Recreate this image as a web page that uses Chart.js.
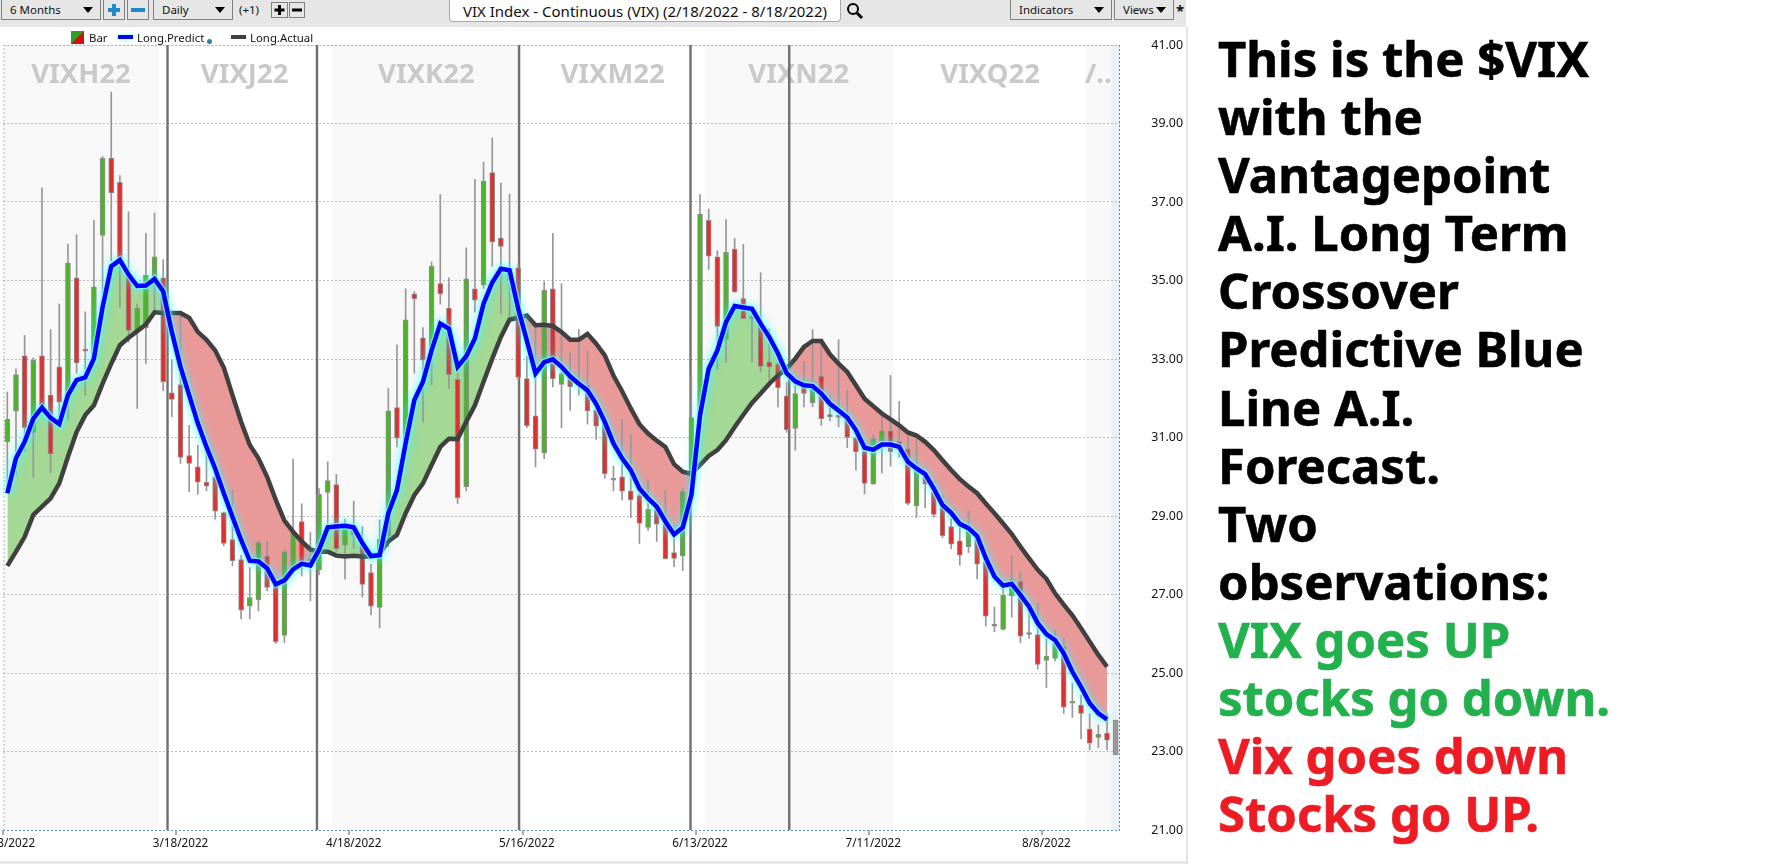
<!DOCTYPE html>
<html>
<head>
<meta charset="utf-8">
<title>VIX Index</title>
<script src="https://cdn.jsdelivr.net/npm/chart.js@4"></script>
<style>
  html, body { margin: 0; padding: 0; background: #fff; overflow: hidden; }
  body { width: 1767px; height: 864px; position: relative; font-family: "Noto Sans", sans-serif; color: #111; }
  #vixChart { position: absolute; left: 0; top: 0; }
  #toolbar { position: absolute; left: 0; top: 0; width: 1186px; height: 27px; background: #e6e6e6; }
  #footer { position: absolute; left: 0; top: 861px; width: 1186px; height: 3px; background: #e6e6e6; }
  #divider { position: absolute; left: 1186px; top: 27px; width: 2px; height: 837px; background: #e4e4e4; }
  .btn { position: absolute; top: 0; height: 20px; box-sizing: border-box; border: 1px solid #808080; border-top: 0; font-size: 11.5px; line-height: 20px; padding-left: 8px; }
  .btn b { position: absolute; right: 7px; top: 7px; width: 0; height: 0; border: 5px solid transparent; border-top: 6px solid #000; border-bottom: 0; }
  .btn svg { position: absolute; left: 0; top: 0; }
  #title { position: absolute; left: 449px; top: 0; width: 392px; height: 22px; box-sizing: border-box; background: #fff; border: 1px solid #aaa; border-top: 0; border-radius: 0 0 4px 4px; font-size: 15px; line-height: 23px; text-align: center; white-space: nowrap; }
  #legend { position: absolute; left: 0; top: 30px; height: 16px; font-size: 11.4px; line-height: 16px; }
  #legend span, #legend i { position: absolute; white-space: nowrap; }
  #notes { position: absolute; left: 1218px; top: 29px; font-family: "Noto Sans", sans-serif; font-weight: 700; font-size: 49px; line-height: 58.1px; white-space: nowrap; color: #000; -webkit-text-stroke: 0.6px currentColor; }
  .up { color: #22b14c; }
  .down { color: #ed1c24; }
</style>
</head>
<body>
<canvas id="vixChart" width="1186" height="864"></canvas>
<div id="toolbar">
  <div class="btn" style="left:1px;width:100px">6 Months<b></b></div>
  <div class="btn" style="left:103px;width:22px;padding:0"><svg width="20" height="20"><path d="M10 4V16M4 10H16" stroke="#1f8ac9" stroke-width="4"/></svg></div>
  <div class="btn" style="left:127px;width:22px;padding:0"><svg width="20" height="20"><path d="M3 10H17" stroke="#1f8ac9" stroke-width="4"/></svg></div>
  <div class="btn" style="left:153px;width:80px">Daily<b></b></div>
  <div style="position:absolute;left:239px;top:2px;font-size:11.5px">(+1)</div>
  <div class="btn" style="left:271px;width:17px;top:2px;height:16px;border-top:1px solid #808080;padding:0"><svg width="15" height="14"><path d="M7.5 2V12M2.5 7H12.5" stroke="#000" stroke-width="3"/></svg></div>
  <div class="btn" style="left:289px;width:16px;top:2px;height:16px;border-top:1px solid #808080;padding:0"><svg width="14" height="14"><path d="M2 7H12" stroke="#000" stroke-width="3"/></svg></div>
  <div id="title">VIX Index - Continuous (VIX) (2/18/2022 - 8/18/2022)</div>
  <svg style="position:absolute;left:846px;top:2px" width="18" height="18"><circle cx="7" cy="7" r="5" fill="none" stroke="#000" stroke-width="2"/><line x1="11" y1="11" x2="16" y2="16" stroke="#000" stroke-width="3"/></svg>
  <div class="btn" style="left:1010px;width:102px">Indicators<b></b></div>
  <div class="btn" style="left:1114px;width:60px">Views<b></b></div>
  <div style="position:absolute;left:1176px;top:0;font-size:15px;font-weight:700">*</div>
</div>
<div id="legend">
  <svg style="position:absolute;left:71px;top:1px" width="13" height="13"><rect width="13" height="13" fill="#2ca02c"/><polygon points="0,13 13,0 13,13" fill="#d01010"/></svg>
  <span style="left:89px">Bar</span>
  <i style="left:118px;top:5px;width:15px;height:4px;background:#0000ff;box-shadow:0 0 4px #7ff"></i>
  <span style="left:137px">Long.Predict</span>
  <i style="left:207px;top:9px;width:5px;height:5px;border-radius:50%;background:#2f7fa8"></i>
  <i style="left:231px;top:5px;width:15px;height:4px;background:#404040"></i>
  <span style="left:250px">Long.Actual</span>
</div>
<div id="footer"></div>
<div id="divider"></div>
<div id="notes">
  <div>This is the $VIX</div>
  <div>with the</div>
  <div>Vantagepoint</div>
  <div>A.I. Long Term</div>
  <div>Crossover</div>
  <div>Predictive Blue</div>
  <div>Line A.I.</div>
  <div>Forecast.</div>
  <div>Two</div>
  <div>observations:</div>
  <div class="up">VIX goes UP</div>
  <div class="up">stocks go down.</div>
  <div class="down">Vix goes down</div>
  <div class="down">Stocks go UP.</div>
</div>
<script>
// trading days shown on the chart
const days = [
  '2/18','2/21','2/22','2/23','2/24','2/25','2/28','3/1','3/2','3/3','3/4','3/7','3/8','3/9','3/10','3/11',
  '3/14','3/15','3/16','3/17','3/18','3/21','3/22','3/23','3/24','3/25','3/28','3/29','3/30','3/31','4/1',
  '4/4','4/5','4/6','4/7','4/8','4/11','4/12','4/13','4/14','4/18','4/19','4/20','4/21','4/22',
  '4/25','4/26','4/27','4/28','4/29','5/2','5/3','5/4','5/5','5/6','5/9','5/10','5/11','5/12','5/13',
  '5/16','5/17','5/18','5/19','5/20','5/23','5/24','5/25','5/26','5/27','5/30','5/31','6/1','6/2','6/3',
  '6/6','6/7','6/8','6/9','6/10','6/13','6/14','6/15','6/16','6/17','6/20','6/21','6/22','6/23','6/24',
  '6/27','6/28','6/29','6/30','7/1','7/4','7/5','7/6','7/7','7/8','7/11','7/12','7/13','7/14','7/15',
  '7/18','7/19','7/20','7/21','7/22','7/25','7/26','7/27','7/28','7/29','8/1','8/2','8/3','8/4','8/5',
  '8/8','8/9','8/10','8/11','8/12','8/15','8/16','8/17','8/18'
];
const opens = [
  30.89,31.67,33.08,31.12,33.08,32.08,32.8,32.0,35.07,33.22,33.03,36.15,38.12,37.5,35.11,33.7,33.8,34.9,35.07,32.14,
  32.35,30.54,30.25,29.86,30.0,29.09,28.4,27.89,26.7,26.86,27.98,27.35,25.96,27.67,28.86,27.93,27.63,29.6,29.8,28.26,
  28.71,28.24,27.56,26.67,28.5,31.76,30.83,34.66,33.54,33.22,34.92,34.3,32.48,29.75,34.79,34.88,37.75,36.08,35.22,35.32,
  32.5,31.55,30.61,34.79,32.35,32.54,32.33,32.33,31.69,31.44,29.91,30.0,29.64,29.52,28.71,29.21,28.81,28.07,27.98,29.58,
  31.57,36.53,35.6,33.49,35.8,34.54,34.03,33.87,32.92,32.88,32.06,31.23,32.33,31.89,32.56,31.58,31.57,31.59,30.99,30.64,
  29.81,30.9,31.17,30.9,30.71,29.26,30.03,29.62,29.21,28.73,28.37,28.22,28.46,27.83,26.21,26.11,26.97,27.33,26.03,25.98,
  25.32,25.37,25.67,24.23,24.18,23.57,23.36,23.47,23.8
];
const closes = [
  31.46,32.6,31.25,32.97,31.82,30.58,31.9,35.45,32.9,33.2,34.84,38.12,37.23,35.42,33.73,34.3,35.13,35.6,32.42,31.97,
  30.49,30.34,29.86,29.76,29.12,28.3,27.86,26.6,26.92,28.32,27.18,25.8,28.09,28.56,27.8,27.7,29.55,29.9,28.17,28.81,
  28.52,27.26,26.7,28.41,31.68,30.98,34.0,34.53,32.97,35.36,34.66,32.6,29.47,35.04,34.5,37.53,35.98,35.87,35.0,32.53,
  31.3,30.7,34.75,32.5,32.63,32.29,32.42,31.68,31.29,30.08,29.96,29.63,29.41,28.81,29.17,28.79,27.91,27.92,29.62,31.51,
  36.69,35.62,33.83,35.72,34.71,34.03,34.09,32.81,32.8,32.27,31.2,32.12,32.12,32.33,31.48,31.53,31.51,31.0,30.64,29.83,
  30.97,31.17,30.64,30.72,29.32,30.17,29.81,29.04,28.5,28.28,28.0,28.73,27.77,26.45,26.19,26.98,27.39,25.94,25.98,25.22,
  25.43,25.75,24.13,24.28,23.97,23.21,23.44,23.29,22.92
];
const highs = [
  32.16,32.75,33.6,33.03,37.36,33.75,34.4,35.93,36.17,34.2,36.53,38.16,39.8,37.67,36.75,34.4,36.2,36.72,35.53,32.98,
  34.1,31.31,30.8,30.6,30.06,29.1,29.66,28.0,27.69,28.36,28.36,27.4,28.14,30.45,29.31,28.58,29.7,30.38,30.06,28.92,
  29.38,28.73,27.77,28.9,32.25,33.36,34.79,34.72,33.8,35.47,37.19,35.07,32.67,35.83,37.58,38.02,38.63,37.48,37.2,35.4,
  33.07,33.9,34.97,36.2,34.92,33.16,33.75,33.22,31.95,31.53,30.27,31.46,31.08,29.75,29.92,29.36,29.66,28.77,29.7,32.56,
  37.19,36.82,35.76,36.55,36.07,35.92,34.15,35.2,33.77,33.18,32.4,32.54,32.94,33.75,33.39,32.08,33.49,32.2,31.1,30.68,
  31.06,31.65,32.58,31.92,31.06,30.97,30.13,29.87,29.53,29.19,28.73,29.13,28.47,27.9,26.68,27.19,27.99,27.57,26.78,26.78,
  25.97,26.09,25.88,24.74,24.44,23.96,23.68,23.96,23.8
];
const lows = [
  29.6,30.04,30.64,29.98,31.8,30.1,31.35,31.44,32.64,32.08,33.0,34.66,35.5,34.32,33.43,31.74,32.88,34.24,32.19,31.53,
  30.34,29.62,29.55,29.64,28.92,28.24,27.73,26.38,26.38,26.58,27.09,25.75,25.77,27.6,27.47,26.84,27.5,28.7,28.1,27.39,
  28.17,26.94,26.48,26.15,28.22,30.76,30.83,32.64,31.4,32.34,34.4,32.25,29.32,29.64,34.2,34.8,35.36,34.15,34.05,32.46,
  31.25,30.25,30.46,32.29,31.25,31.69,32.08,31.34,30.95,29.96,29.64,29.41,28.96,28.3,28.63,28.35,27.9,27.71,27.61,29.5,
  31.5,35.28,32.73,32.92,34.7,34.03,32.92,32.67,32.42,31.78,31.13,30.68,31.78,31.78,31.31,31.42,31.27,30.74,30.17,29.56,
  29.81,30.1,30.27,30.5,29.28,28.96,29.21,28.97,28.45,28.17,27.75,28.07,27.4,26.2,26.05,26.1,26.42,25.77,25.88,25.1,
  24.63,25.31,23.97,23.87,23.33,23.04,23.1,23.04,22.92
];
const longPredict = [
  29.58,30.47,30.89,31.48,31.76,31.5,31.34,32.08,32.46,32.53,33.01,34.32,35.36,35.52,35.15,34.86,34.87,35.04,34.72,33.69,
  32.8,32.08,31.36,30.76,30.21,29.58,28.98,28.39,27.86,27.84,27.67,27.26,27.36,27.64,27.78,27.74,28.14,28.71,28.73,28.75,
  28.71,28.31,27.98,28.0,29.07,29.66,30.85,31.95,32.42,33.22,33.9,33.77,32.8,33.07,33.52,34.41,34.95,35.3,35.26,34.28,
  33.47,32.63,32.92,32.99,32.8,32.56,32.37,32.2,31.86,31.4,30.85,30.47,30.17,29.7,29.45,29.24,28.86,28.53,28.71,29.53,
  31.57,32.75,33.22,33.94,34.35,34.31,34.28,33.9,33.56,33.14,32.64,32.43,32.33,32.31,32.12,31.86,31.69,31.51,31.19,30.74,
  30.69,30.82,30.82,30.76,30.38,30.21,30.07,29.7,29.28,29.08,28.8,28.69,28.49,27.93,27.46,27.23,27.27,26.99,26.69,26.27,
  25.99,25.84,25.5,25.03,24.65,24.23,23.97,23.82
];
const longActual = [
  27.73,28.09,28.47,29.03,29.24,29.45,29.83,30.51,31.14,31.57,31.82,32.37,32.88,33.35,33.54,33.71,33.88,34.19,34.17,34.17,
  34.17,34.05,33.69,33.49,33.22,32.78,32.08,31.4,30.81,30.47,30.0,29.41,28.88,28.6,28.35,28.15,28.09,28.09,27.99,27.97,
  27.99,27.97,27.97,28.05,28.35,28.52,29.07,29.53,29.83,30.3,30.76,30.97,30.96,31.4,31.82,32.42,33.01,33.56,34.0,34.05,
  34.11,33.86,33.87,33.84,33.69,33.49,33.49,33.64,33.39,33.09,32.58,32.18,31.74,31.34,31.1,30.92,30.76,30.32,30.13,30.07,
  30.3,30.53,30.68,30.93,31.27,31.58,31.88,32.12,32.37,32.58,32.75,33.01,33.31,33.46,33.46,33.12,32.88,32.67,32.33,31.99,
  31.8,31.61,31.46,31.31,31.13,31.05,30.89,30.68,30.42,30.17,29.94,29.75,29.58,29.32,29.07,28.81,28.54,28.22,27.92,27.63,
  27.4,27.03,26.74,26.47,26.14,25.8,25.46,25.16
];
const contractNames = ['VIXH22','VIXJ22','VIXK22','VIXM22','VIXN22','VIXQ22','/..'];

const labels = days.map(d => d + '/2022');

// where the decorations sit, as bar numbers on the x scale
const contractCentres = [8.5, 27.4, 48.4, 69.9, 91.4, 113.5, 126];
const rollLines = [18.5, 35.76, 59.1, 78.9, 90.3];
const bands = [[-0.4, 17.5], [37.5, 59.1], [80.5, 102.4], [124.5, 127.5]];

const GREEN = '#4cb32b', RED = '#e02f2f', GREY = '#9a9a9a';
const lastBar = labels.length - 1;

function barColour(i) {
  if (i === lastBar) return GREY;
  return closes[i] >= opens[i] ? GREEN : RED;
}

const decorations = {
  id: 'decorations',
  beforeDraw(chart) {
    const { ctx, chartArea: a, scales: { x } } = chart;
    ctx.save();
    ctx.fillStyle = '#f8f8f8';
    bands.forEach(b => {
      const l = x.getPixelForValue(b[0]);
      ctx.fillRect(l, a.top, x.getPixelForValue(b[1]) - l, a.bottom - a.top);
    });
    ctx.fillStyle = '#e9f0f8';
    const l = x.getPixelForValue(127.5);
    ctx.fillRect(l, a.top, a.right - l, a.bottom - a.top);
    ctx.restore();
  },
  beforeDatasetsDraw(chart) {
    const { ctx, chartArea: a, scales: { x } } = chart;
    ctx.save();
    // watermark contract names
    ctx.font = 'bold 27.5px "Noto Sans"';
    ctx.fillStyle = '#c9c9c9';
    ctx.textAlign = 'center';
    ctx.textBaseline = 'middle';
    contractNames.forEach((name, i) => ctx.fillText(name, x.getPixelForValue(contractCentres[i]), 75));
    // frame
    ctx.lineWidth = 1;
    ctx.setLineDash([2, 2]);
    ctx.strokeStyle = '#b5b5b5';
    ctx.beginPath();
    ctx.moveTo(a.left + 1, a.bottom); ctx.lineTo(a.left + 1, a.top + 0.5); ctx.lineTo(a.right, a.top + 0.5);
    ctx.stroke();
    ctx.strokeStyle = '#5b8fbf';
    ctx.beginPath();
    ctx.moveTo(a.left, a.bottom + 0.5); ctx.lineTo(a.right - 0.5, a.bottom + 0.5); ctx.lineTo(a.right - 0.5, a.top);
    ctx.stroke();
    ctx.setLineDash([]);
    // tick marks under the date labels
    ctx.strokeStyle = '#aaa';
    ctx.lineWidth = 2;
    labels.forEach((t, i) => {
      if (i % 20) return;
      const p = Math.round(x.getPixelForValue(i - 0.5));
      ctx.beginPath(); ctx.moveTo(p, a.bottom); ctx.lineTo(p, a.bottom + 5); ctx.stroke();
    });
    // contract roll lines
    ctx.strokeStyle = '#707070';
    ctx.lineWidth = 2.4;
    rollLines.forEach(r => {
      const p = x.getPixelForValue(r);
      ctx.beginPath(); ctx.moveTo(p, a.top); ctx.lineTo(p, a.bottom); ctx.stroke();
    });
    ctx.restore();
  },
  beforeDatasetDraw(chart, args) {
    if (chart.data.datasets[args.index].glow) {
      chart.ctx.save();
      chart.ctx.shadowColor = '#3ff';
      chart.ctx.shadowBlur = 8;
    }
  },
  afterDatasetDraw(chart, args) {
    if (chart.data.datasets[args.index].glow) chart.ctx.restore();
  }
};

new Chart(document.getElementById('vixChart'), {
  data: {
    labels,
    datasets: [
      { type: 'line', label: 'Long.Actual', data: longActual, borderColor: '#404040', borderWidth: 4.5, pointRadius: 0, tension: 0, order: 1 },
      { type: 'line', label: 'Long.Predict', data: longPredict, borderColor: '#0000ff', borderWidth: 4.5, pointRadius: 0, tension: 0, order: 0 },
      { type: 'line', label: 'halo', data: longPredict, borderColor: 'rgba(130,255,255,0.7)', borderWidth: 7, pointRadius: 0, tension: 0, order: 0.5, glow: true },
      { type: 'line', label: 'gap', data: longPredict, borderWidth: 0, pointRadius: 0, tension: 0, order: 5,
        fill: { target: 0, above: 'rgba(158,214,143,0.95)', below: 'rgba(233,150,150,0.97)' } },
      { type: 'bar', label: 'wick', data: highs.map((h, i) => [lows[i], h]), backgroundColor: '#979797', barThickness: 1, grouped: false, order: 4 },
      { type: 'bar', label: 'body', data: opens.map((o, i) => [o, closes[i]]), backgroundColor: labels.map((t, i) => barColour(i)),
        borderColor: '#8f8f8f', borderWidth: 1, borderSkipped: false, barThickness: 5, minBarLength: 2, grouped: false, order: 3 }
    ]
  },
  options: {
    responsive: false,
    animation: false,
    layout: { padding: { left: 3, top: 45, right: 3, bottom: 0 } },
    plugins: { legend: { display: false }, tooltip: { enabled: false } },
    scales: {
      x: {
        type: 'category',
        offset: true,
        grid: { offset: true, drawTicks: false, color: c => (c.index % 20 === 0 ? '#bdbdbd' : 'transparent') },
        border: { display: false, dash: [2, 2] },
        afterFit(s) { s.height = 34; s.paddingLeft = 0; s.paddingRight = 0; },
        ticks: {
          autoSkip: false, maxRotation: 0, minRotation: 0, padding: 7, color: '#111',
          font: { family: '"Noto Sans"', size: 11.7 },
          callback(v, i) { return i % 20 === 0 ? this.getLabelForValue(v) : null; }
        }
      },
      y: {
        position: 'right',
        min: 21, max: 41,
        grid: { color: '#bdbdbd', drawTicks: false },
        border: { display: false, dash: [2, 2] },
        afterFit(s) { s.width = 63; },
        ticks: {
          stepSize: 2, color: '#111', padding: 5, crossAlign: 'far',
          font: { family: '"Noto Sans"', size: 12.4 },
          callback: v => v.toFixed(2)
        }
      }
    }
  },
  plugins: [decorations]
});
</script>
</body>
</html>
